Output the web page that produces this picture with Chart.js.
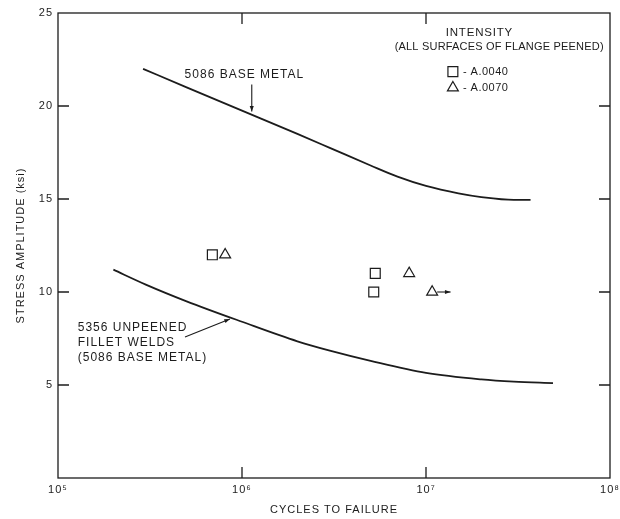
<!DOCTYPE html>
<html>
<head>
<meta charset="utf-8">
<script src="https://cdn.jsdelivr.net/npm/chart.js@4"></script>
<style>
  html, body { margin: 0; padding: 0; background: #fff; }
  #wrap { width: 620px; height: 519px; }
</style>
</head>
<body>
<div id="wrap"><canvas id="fatigue"></canvas></div>
<script>
// S-N curves (stress amplitude vs cycles to failure)
const baseMetalX = [2.9e5, 5e5, 1e6, 2e6, 3e6, 5e6, 7e6, 1e7, 1.5e7, 2e7, 3e7, 3.7e7];
const baseMetalY = [22.0, 21.0, 19.75, 18.5, 17.75, 16.8, 16.2, 15.7, 15.3, 15.1, 14.95, 14.95];

const weldX = [2e5, 3e5, 5e5, 1e6, 2e6, 3e6, 5e6, 1e7, 2e7, 3e7, 4.9e7];
const weldY = [11.2, 10.4, 9.5, 8.4, 7.35, 6.85, 6.3, 5.65, 5.3, 5.18, 5.1];

// peened specimens
const a0040X = [6.9e5, 5.3e6, 5.2e6];
const a0040Y = [12, 11, 10];
const a0070X = [8.1e5, 8.1e6, 1.08e7];
const a0070Y = [12, 11, 10];

const xTicks = [1e5, 1e6, 1e7, 1e8];
const xTickLabels = ['10\u2075', '10\u2076', '10\u2077', '10\u2078'];
const yTicks = [5, 10, 15, 20, 25];

const INK = '#1c1c1c';
const FONT = "'Liberation Sans', Arial, sans-serif";

const pts = (xs, ys) => xs.map((x, i) => ({ x, y: ys[i] }));

// text / arrows placed in data units
const notes = [
  { text: '5086 BASE METAL', x: 1.03e6, y: 21.7, align: 'center', size: 12, sp: 1 },
  { text: '5356 UNPEENED', x: 1.28e5, y: 8.06, align: 'left', size: 12, sp: 1 },
  { text: 'FILLET WELDS', x: 1.28e5, y: 7.26, align: 'left', size: 12, sp: 1 },
  { text: '(5086 BASE METAL)', x: 1.28e5, y: 6.45, align: 'left', size: 12, sp: 1 },
  { text: 'INTENSITY', x: 1.95e7, y: 23.95, align: 'center', size: 11.5, sp: 0.8 },
  { text: '(ALL SURFACES OF FLANGE PEENED)', x: 2.5e7, y: 23.2, align: 'center', size: 11, sp: 0.2 },
];
const arrows = [
  { from: [1.13e6, 21.15], to: [1.13e6, 19.7] },
  { from: [4.9e5, 7.58], to: [8.6e5, 8.55] },
  { from: [1.15e7, 10], to: [1.36e7, 10] },
];
const legendRows = [
  { style: 'rect', radius: 7, text: '- A.0040', x: 1.4e7, y: 21.85 },
  { style: 'triangle', radius: 6.3, text: '- A.0070', x: 1.4e7, y: 20.98 },
];

const framePlugin = {
  id: 'frame',
  beforeDraw(chart) {
    chart.ctx.letterSpacing = '1px';
  },
  afterDraw(chart) {
    const { ctx, chartArea: a } = chart;
    const xs = chart.scales.x, ys = chart.scales.y;
    const tick = 11;
    ctx.save();
    ctx.strokeStyle = INK;
    ctx.lineWidth = 1.3;
    ctx.strokeRect(a.left, a.top, a.right - a.left, a.bottom - a.top);
    ctx.beginPath();
    xTicks.slice(1, -1).forEach(v => {
      const px = xs.getPixelForValue(v);
      ctx.moveTo(px, a.bottom); ctx.lineTo(px, a.bottom - tick);
      ctx.moveTo(px, a.top); ctx.lineTo(px, a.top + tick);
    });
    yTicks.slice(0, -1).forEach(v => {
      const py = ys.getPixelForValue(v);
      ctx.moveTo(a.left, py); ctx.lineTo(a.left + tick, py);
      ctx.moveTo(a.right, py); ctx.lineTo(a.right - tick, py);
    });
    ctx.stroke();

    // annotations
    ctx.fillStyle = INK;
    ctx.textBaseline = 'middle';
    notes.forEach(n => {
      ctx.font = n.size + 'px ' + FONT;
      ctx.letterSpacing = n.sp + 'px';
      ctx.textAlign = n.align;
      ctx.fillText(n.text, xs.getPixelForValue(n.x), ys.getPixelForValue(n.y));
    });

    ctx.lineWidth = 1.1;
    arrows.forEach(ar => {
      const x0 = xs.getPixelForValue(ar.from[0]), y0 = ys.getPixelForValue(ar.from[1]);
      const x1 = xs.getPixelForValue(ar.to[0]), y1 = ys.getPixelForValue(ar.to[1]);
      const ang = Math.atan2(y1 - y0, x1 - x0);
      ctx.beginPath();
      ctx.moveTo(x0, y0); ctx.lineTo(x1, y1);
      ctx.stroke();
      ctx.beginPath();
      ctx.moveTo(x1, y1);
      ctx.lineTo(x1 - 6 * Math.cos(ang - 0.35), y1 - 6 * Math.sin(ang - 0.35));
      ctx.lineTo(x1 - 6 * Math.cos(ang + 0.35), y1 - 6 * Math.sin(ang + 0.35));
      ctx.closePath();
      ctx.fill();
    });

    // legend
    ctx.textAlign = 'left';
    ctx.font = '11px ' + FONT;
    ctx.letterSpacing = '0.5px';
    legendRows.forEach(r => {
      const px = xs.getPixelForValue(r.x), py = ys.getPixelForValue(r.y);
      ctx.fillStyle = '#fff';
      ctx.strokeStyle = INK;
      ctx.lineWidth = 1.2;
      Chart.helpers.drawPoint(ctx, { pointStyle: r.style, radius: r.radius, borderWidth: 1.2 }, px, py);
      ctx.fillStyle = INK;
      ctx.fillText(r.text, px + 10, py + 0.5);
    });
    ctx.restore();
  }
};

const lineSet = (label, xs, ys) => ({
  label,
  data: pts(xs, ys),
  showLine: true,
  borderColor: INK,
  borderWidth: 1.8,
  pointRadius: 0,
  cubicInterpolationMode: 'monotone',
  fill: false,
});
const markSet = (label, xs, ys, style, r) => ({
  label,
  data: pts(xs, ys),
  showLine: false,
  pointStyle: style,
  pointRadius: r,
  pointBorderWidth: 1.2,
  pointBorderColor: INK,
  pointBackgroundColor: '#fff',
});

new Chart(document.getElementById('fatigue').getContext('2d'), {
  type: 'scatter',
  data: {
    datasets: [
      lineSet('5086 base metal', baseMetalX, baseMetalY),
      lineSet('5356 unpeened fillet welds', weldX, weldY),
      markSet('A.0040', a0040X, a0040Y, 'rect', 7),
      markSet('A.0070', a0070X, a0070Y, 'triangle', 6.3),
    ],
  },
  options: {
    responsive: true,
    maintainAspectRatio: false,
    animation: false,
    layout: { padding: { top: 13, right: 10, left: 0, bottom: 0 } },
    plugins: { legend: { display: false }, tooltip: { enabled: false } },
    scales: {
      x: {
        type: 'logarithmic',
        min: 1e5,
        max: 1e8,
        afterBuildTicks: s => { s.ticks = xTicks.map(v => ({ value: v })); },
        afterFit: s => { s.height = 41; s.paddingLeft = 0; s.paddingRight = 0; },
        ticks: {
          autoSkip: false,
          maxRotation: 0,
          padding: 5,
          color: INK,
          font: { family: FONT, size: 11 },
          callback: v => xTickLabels[xTicks.indexOf(v)],
        },
        grid: { display: false, drawTicks: false },
        border: { display: false },
        title: {
          display: true,
          text: 'CYCLES TO FAILURE',
          color: INK,
          font: { family: FONT, size: 11 },
          padding: { top: 4, bottom: 2 },
        },
      },
      y: {
        min: 0,
        max: 25,
        afterBuildTicks: s => { s.ticks = yTicks.map(v => ({ value: v })); },
        afterFit: s => { s.width = 58; },
        ticks: {
          padding: 5,
          color: INK,
          font: { family: FONT, size: 11 },
        },
        grid: { display: false, drawTicks: false },
        border: { display: false },
        title: {
          display: true,
          text: 'STRESS AMPLITUDE (ksi)',
          color: INK,
          font: { family: FONT, size: 11 },
          padding: { top: 14, bottom: 0 },
        },
      },
    },
  },
  plugins: [framePlugin],
});
</script>
</body>
</html>
